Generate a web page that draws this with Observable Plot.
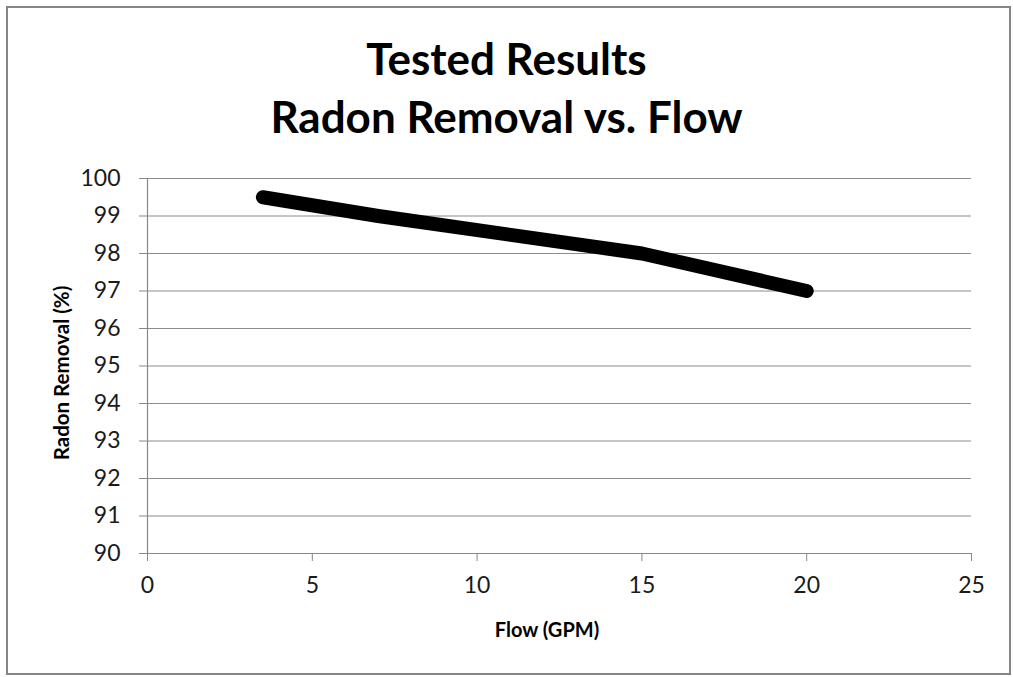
<!DOCTYPE html>
<html>
<head>
<meta charset="utf-8">
<script src="https://cdn.jsdelivr.net/npm/d3@7"></script>
<script src="https://cdn.jsdelivr.net/npm/@observablehq/plot@0.6"></script>
<style>
  html, body { margin: 0; padding: 0; background: #fff; }
  #wrap { position: relative; width: 1013px; height: 677px; overflow: hidden; font-family: Lato, "Open Sans", sans-serif; }
  #frame { position: absolute; left: 6px; top: 6px; width: 1001px; height: 665px; border: 2px solid #858585; box-sizing: content-box; pointer-events: none; }
  #title { position: absolute; left: 0; width: 1013px; top: 29px; text-align: center; font-weight: bold; font-size: 44px; line-height: 58px; color: #000; }
  #xlabel { position: absolute; left: 447px; width: 200px; top: 617px; text-align: center; font-weight: bold; font-size: 20px; color: #000; }
  #ylabel { position: absolute; left: 61px; top: 373px; transform: translate(-50%, -50%) rotate(-90deg); white-space: nowrap; font-weight: bold; font-size: 20.5px; color: #000; }
  #chart { position: absolute; left: 0; top: 0; }
</style>
</head>
<body>
<div id="wrap">
  <div id="chart"></div>
  <div id="title">Tested Results<br>Radon Removal vs. Flow</div>
  <div id="xlabel">Flow (GPM)</div>
  <div id="ylabel">Radon Removal (%)</div>
  <div id="frame"></div>
</div>
<script>
const flow = [3.5, 7, 15, 20];
const removal = [99.5, 99, 98, 97];
const xTicks = [0, 5, 10, 15, 20, 25];
const yTicks = [90, 91, 92, 93, 94, 95, 96, 97, 98, 99, 100];

const data = flow.map((f, i) => ({flow: f, removal: removal[i]}));

const chart = Plot.plot({
  width: 1013,
  height: 677,
  marginLeft: 147,
  marginRight: 42,
  marginTop: 178,
  marginBottom: 124,
  style: {fontFamily: "Lato, 'Open Sans', sans-serif", fontSize: "23px", color: "#000", background: "transparent"},
  x: {domain: [0, 25]},
  y: {domain: [90, 100]},
  marks: [
    Plot.ruleY(yTicks.filter(d => d !== 90), {stroke: "#8c8c8c", strokeWidth: 1.2, strokeOpacity: 1}),
    Plot.axisY({ticks: yTicks, tickSize: 8, tickPadding: 19, stroke: "#888", strokeOpacity: 1, fill: "#1a1a1a", fontSize: 23, label: null, tickFormat: d => String(d)}),
    Plot.axisX({ticks: xTicks, tickSize: 8, tickPadding: 15, stroke: "#888", strokeOpacity: 1, fill: "#1a1a1a", fontSize: 23, label: null, tickFormat: d => String(d)}),
    Plot.ruleX([0], {stroke: "#888", strokeWidth: 1.2}),
    Plot.ruleY([90], {stroke: "#888", strokeWidth: 1.2}),
    Plot.line(data, {x: "flow", y: "removal", stroke: "#000", strokeWidth: 14, strokeLinecap: "round", strokeLinejoin: "round"})
  ]
});
document.getElementById("chart").appendChild(chart);
</script>
</body>
</html>
